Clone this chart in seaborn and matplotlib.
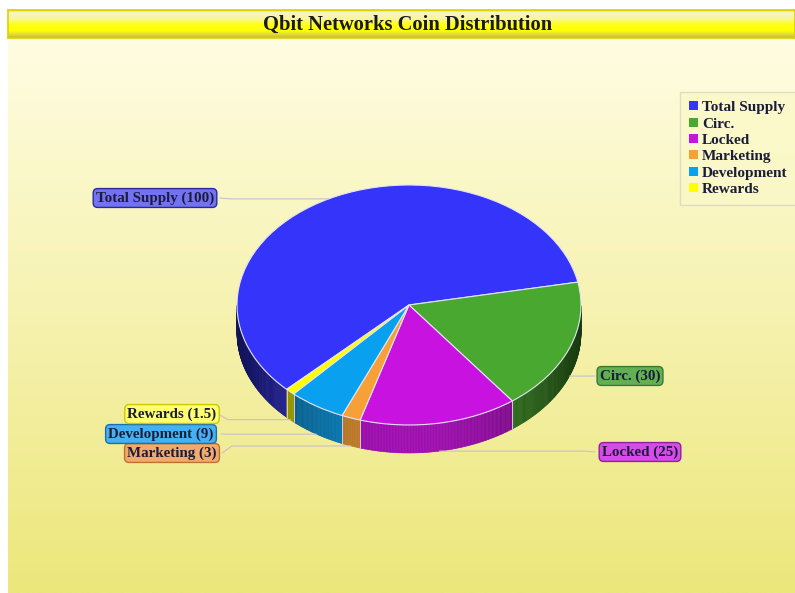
import numpy as np
import matplotlib
matplotlib.use('Agg')
import matplotlib.pyplot as plt
import seaborn as sns
from matplotlib.colors import LinearSegmentedColormap, to_rgb
from matplotlib.patches import Polygon, Patch

# ---- data ----
categories = ['Total Supply', 'Circ.', 'Locked', 'Marketing', 'Development', 'Rewards']
values = [100, 30, 25, 3, 9, 1.5]
value_labels = ['100', '30', '25', '3', '9', '1.5']
title = 'Qbit Networks Coin Distribution'

sns.set_theme(style='white')
plt.rcParams['font.family'] = ['Liberation Serif', 'DejaVu Serif']

top_colors = sns.color_palette(['#3434FA', '#48A830', '#C812E0', '#F8A038', '#0AA0F0', '#FFFF00'])
box_faces = ['#7272F2', '#62B052', '#D64CE8', '#F2AA6C', '#44B2F2', '#FFFF70']
box_edges = ['#2A2AA0', '#3A7A30', '#8E20A0', '#C07030', '#1870B0', '#D0C800']

W, H = 795, 593
fig = plt.figure(figsize=(W / 100, H / 100), dpi=100, facecolor='white')

# background gradient
bg = fig.add_axes([8 / W, 0, 1 - 8 / W, (H - 37) / H])
bg_cmap = LinearSegmentedColormap.from_list('bg', ['#FFFDE2', '#F6F2B0', '#ECE77A'])
bg.imshow(np.linspace(0, 1, 256).reshape(-1, 1), aspect='auto', cmap=bg_cmap, extent=[0, 1, 0, 1])
bg.axis('off')

# title banner
bn = fig.add_axes([8 / W, (H - 38) / H, 1 - 8 / W, 28 / H])
bn_cmap = LinearSegmentedColormap.from_list('bn', [(0, '#E6D800'), (0.07, '#F7F5C8'), (0.3, '#F8F6A0'),
                                                   (0.5, '#FFFF1A'), (0.75, '#FFFF00'), (0.92, '#D6CE48'),
                                                   (1, '#C8BC20')])
bn.imshow(np.linspace(0, 1, 64).reshape(-1, 1), aspect='auto', cmap=bn_cmap, extent=[0, 1, 0, 1])
bn.set_xticks([]); bn.set_yticks([])
for s in bn.spines.values():
    s.set_color('#E0D000'); s.set_linewidth(1.2)
bn.text((408 - 8) / (W - 8), 0.47, title, ha='center', va='center', fontsize=14.8,
        fontweight='bold', color='#1a1a1a', transform=bn.transAxes)

# pie axes (pixel geometry of the ellipse)
CX, CY, RX, RY, DEPTH = 409, 305, 172, 120, 28
d = DEPTH / RY
ax = fig.add_axes([0, 0, 1, 1])
ax.patch.set_alpha(0)
total = sum(values)
start = 11 + 360 * values[0] / total
wedges, _ = ax.pie(values, colors=top_colors, startangle=start, counterclock=False, radius=1,
                   center=(0, 0), wedgeprops=dict(edgecolor='#E4E4F4', linewidth=0.8, zorder=3))
ax.set_aspect('auto')
ax.set_xlim(-CX / RX, (W - CX) / RX)
ax.set_ylim(-(H - CY) / RY, CY / RY)
ax.axis('off')

# 3D sides
for w, c in zip(wedges, top_colors):
    base = np.array(to_rgb(c))
    n = max(3, int((w.theta2 - w.theta1) * 2))
    ts = np.radians(np.linspace(w.theta1, w.theta2, n))
    for a0, a1 in zip(ts[:-1], ts[1:]):
        am = (a0 + a1) / 2
        if np.sin(am) >= 0:
            continue
        f = 0.34 + 0.46 * np.sin(am) ** 2
        col = np.clip(base * f, 0, 1)
        poly = [(np.cos(a0), np.sin(a0)), (np.cos(a1), np.sin(a1)),
                (np.cos(a1), np.sin(a1) - d), (np.cos(a0), np.sin(a0) - d)]
        ax.add_patch(Polygon(poly, closed=True, facecolor=col, edgecolor=col, linewidth=0.4, zorder=1))
    for th in (w.theta1, w.theta2):
        a = np.radians(th)
        if np.sin(a) < 0:
            ax.plot([np.cos(a), np.cos(a)], [np.sin(a), np.sin(a) - d], color='#D8C8E0', lw=0.6, zorder=2)

def px(x, y):
    return (x - CX) / RX, (CY - y) / RY

# labels
label_pos = [(155, 198), (630, 376), (640, 452), (172, 453), (161, 434), (172, 414)]
box_edge_x = [220, 595, 595, 222, 221, 218]
for w, cat, vl, (lx, ly), ex, fc, ec in zip(wedges, categories, value_labels, label_pos,
                                             box_edge_x, box_faces, box_edges):
    am = np.radians((w.theta1 + w.theta2) / 2)
    axx, ayy = np.cos(am), np.sin(am)
    if ayy < 0:
        ayy -= d
    anc_px = (CX + RX * axx, CY - RY * ayy)
    elbow = ex + 10 if ex < CX else ex - 10
    pts = [anc_px, (elbow, anc_px[1]), (ex, ly)]
    xs, ys = zip(*[px(*p) for p in pts])
    ax.plot(xs, ys, color='#C8C0CC', lw=0.8, zorder=4)
    tx, ty = px(lx, ly)
    ax.text(tx, ty, f'{cat} ({vl})', ha='center', va='center', fontsize=10.8, fontweight='bold',
            color='#1B1B3A', zorder=6,
            bbox=dict(boxstyle='round,pad=0.18,rounding_size=0.3', fc=fc, ec=ec, lw=1))

# legend
handles = [Patch(facecolor=c, edgecolor='none') for c in top_colors]
leg = fig.legend(handles, categories, loc='upper left', bbox_to_anchor=(680 / W, 1 - 92 / H),
                 frameon=True, prop={'weight': 'bold', 'size': 11}, handlelength=0.55,
                 handleheight=0.55, handletextpad=0.3, labelspacing=0.22, borderpad=0.6,
                 borderaxespad=0, fancybox=False)
leg.get_frame().set_facecolor('#FBF8C8')
leg.get_frame().set_edgecolor('#D8D6C0')
for t in leg.get_texts():
    t.set_color('#1B1B3A')

fig.savefig('out.png', dpi=100, facecolor='white')
